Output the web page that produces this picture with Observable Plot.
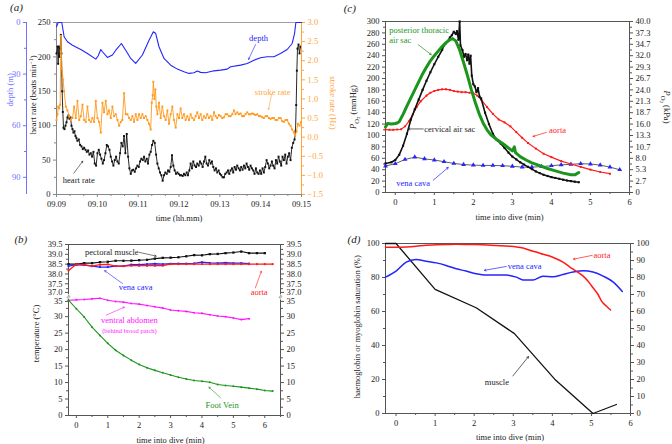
<!DOCTYPE html>
<html><head><meta charset="utf-8">
<script src="https://cdn.jsdelivr.net/npm/d3@7"></script>
<script src="https://cdn.jsdelivr.net/npm/@observablehq/plot@0.6"></script>
<style>
html,body{margin:0;padding:0;background:#fff;}
#root{position:relative;width:672px;height:444px;overflow:hidden;background:#fff;}
</style></head><body><div id="root"></div>
<script>
// ---------------- DATA ----------------
// (a) time in seconds after 09:09:00
const timeTicksA = [0, 60, 120, 180, 240, 300, 360];
const timeLabelsA = ["09.09", "09.10", "09.11", "09.12", "09.13", "09.14", "09.15"];
const hrTicks = [0, 50, 100, 150, 200, 250];
const depthTicks = [0, 30, 60, 90];
const strokeTicks = [-1.5, -1.0, -0.5, 0, 0.5, 1.0, 1.5, 2.0, 2.5, 3.0];

const heartRate = [
 [0,205],[1.5,215],[2.4,190],[3.4,215],[4.4,200],[5.4,212],[6.4,232],[7.3,205],[8.3,150],[9.3,120],
 [10.3,97],[11.7,95],[13.2,100],[14.7,105],[16.1,112],[17.6,115],[19.1,110],[20.5,112],[22.0,100],[23.5,95],
 [24.9,90],[26.4,92],[27.9,85],[29.3,82],[30.8,78],[32.8,80],[34.7,72],[36.7,70],[38.6,66],[40.6,68],
 [42.6,65],[44.5,62],[46.5,64],[48.4,58],[50.4,60],[52.3,55],[54.3,62],[56.2,45],[58.2,42],[60.2,60],
 [62.1,65],[64.1,58],[66.0,52],[68.0,45],[69.9,50],[71.9,60],[73.9,72],[75.8,70],[77.8,65],[79.7,55],
 [81.7,48],[83.6,42],[85.6,50],[87.6,55],[89.5,48],[91.5,45],[93.4,60],[95.4,75],[97.3,70],[99.3,85],
 [101.2,60],[103.2,88],[105.2,55],[107.1,38],[109.1,30],[111.0,35],[113.0,36],[114.9,33],[116.9,38],[118.9,42],
 [120.8,40],[122.8,48],[124.7,52],[126.7,50],[128.6,55],[130.6,48],[132.6,52],[134.5,45],[136.5,58],[138.4,62],
 [140.4,72],[142.3,78],[144.3,75],[146.3,58],[148.2,45],[150.2,38],[152.1,32],[154.1,28],[156.0,20],[158.0,28],
 [159.9,32],[161.9,30],[163.9,35],[165.8,33],[167.8,40],[169.7,57],[171.7,42],[173.6,35],[175.6,30],[177.6,32],
 [179.5,30],[181.5,28],[183.4,28],[185.4,27],[187.3,30],[189.3,28],[191.3,32],[193.2,28],[195.2,35],[197.1,45],
 [199.1,38],[201.0,48],[203.0,42],[205.0,40],[206.9,45],[208.9,42],[210.8,48],[212.8,45],[214.7,40],[216.7,48],
 [218.7,55],[220.6,45],[222.6,42],[224.5,50],[226.5,45],[228.4,48],[230.4,40],[232.3,35],[234.3,38],[236.3,32],
 [238.2,35],[240.2,30],[242.1,28],[244.1,25],[246.0,25],[248.0,30],[250.0,32],[251.9,35],[253.9,30],[255.8,35],
 [257.8,38],[259.7,32],[261.7,40],[263.7,36],[265.6,42],[267.6,38],[269.5,35],[271.5,40],[273.4,36],[275.4,42],
 [277.4,38],[279.3,45],[281.3,40],[283.2,36],[285.2,42],[287.1,38],[289.1,35],[291.0,30],[293.0,38],[295.0,32],
 [296.9,30],[298.9,35],[300.8,30],[302.8,38],[304.7,32],[306.7,40],[308.7,50],[310.6,45],[312.6,38],[314.5,42],
 [316.5,48],[318.4,42],[320.4,38],[322.4,50],[324.3,45],[326.3,55],[328.2,48],[330.2,42],[332.1,55],[334.1,50],
 [336.1,58],[338.0,45],[340.0,55],[341.9,60],[343.9,50],[345.8,68],[347.8,75],[349.8,80],[351.2,92],[352.2,130],
 [353.2,180],[354.1,212],[355.6,218],[357.1,205],[358.5,215]
];
const strokeRate = [
 [0,0.45],[1.5,0.6],[2.4,0.8],[3.9,0.75],[5.4,0.85],[6.4,2.65],[7.8,1.8],[9.8,1.5],[11.2,1.2],[13.7,0.8],
 [16.1,0.7],[18.6,0.55],[21.0,0.45],[23.5,0.5],[25.9,0.8],[28.4,0.5],[30.8,0.95],[33.3,0.45],[35.7,0.55],[38.2,0.85],
 [40.6,0.45],[43.0,0.4],[45.5,0.8],[47.9,0.45],[50.4,0.4],[52.8,0.5],[55.3,0.4],[57.7,0.95],[60.2,0.5],[62.6,0.4],
 [65.1,0.12],[67.5,0.9],[69.9,0.65],[72.4,0.95],[74.8,0.6],[77.3,0.7],[79.7,0.5],[82.2,0.8],[84.6,0.55],[87.1,0.6],
 [89.5,0.45],[92.0,0.3],[94.4,0.4],[96.8,0.45],[99.3,1.15],[101.7,0.6],[104.2,0.6],[106.6,0.5],[109.1,0.45],[111.5,0.55],
 [114.0,0.4],[116.4,0.6],[118.9,0.45],[121.3,0.6],[123.7,0.5],[126.2,0.6],[128.6,0.5],[131.1,0.55],[133.5,0.45],[136.0,0.35],
 [138.4,0.2],[139.9,0.9],[141.4,1.1],[142.3,1.45],[143.8,1.0],[145.3,1.25],[146.7,0.8],[148.2,0.6],[150.6,0.9],[153.1,0.5],
 [155.5,0.8],[158.0,0.55],[160.4,0.45],[162.9,0.7],[165.3,0.35],[167.8,0.6],[170.2,0.8],[172.7,0.45],[175.1,0.25],[177.6,0.6],
 [180.0,0.5],[182.4,0.75],[184.9,0.5],[187.3,0.6],[189.8,0.45],[192.2,0.55],[194.7,0.45],[197.1,0.6],[199.6,0.5],[202.0,0.45],
 [204.5,0.55],[206.9,0.65],[209.3,0.5],[211.8,0.6],[214.2,0.45],[216.7,0.55],[219.1,0.5],[221.6,0.6],[224.0,0.5],[226.5,0.55],
 [228.9,0.45],[231.4,0.65],[233.8,0.55],[236.2,0.5],[238.7,0.58],[241.1,0.55],[243.6,0.5],[246.0,0.52],[248.5,0.6],[250.9,0.6],
 [253.4,0.55],[255.8,0.55],[258.3,0.6],[260.7,0.7],[263.1,0.6],[265.6,0.65],[268.0,0.6],[270.5,0.62],[272.9,0.55],[275.4,0.55],
 [277.8,0.6],[280.3,0.65],[282.7,0.6],[285.2,0.6],[287.6,0.62],[290.1,0.6],[292.5,0.58],[295.0,0.6],[297.4,0.55],[299.8,0.55],
 [302.3,0.52],[304.7,0.5],[307.2,0.55],[309.6,0.55],[312.1,0.5],[314.5,0.48],[317.0,0.5],[319.4,0.5],[321.9,0.45],[324.3,0.45],
 [326.8,0.5],[329.2,0.5],[331.6,0.42],[334.1,0.4],[336.5,0.45],[339.0,0.45],[341.4,0.35],[343.9,0.3],[346.3,0.2],[348.8,0.12],
 [350.7,0.05],[352.7,0.15],[354.6,0.35],[357.1,0.3],[359.5,0.4]
];
const depth = [
 [0,2.5],[2.4,0],[7.8,0],[11.2,8.3],[16.1,11.2],[23.5,13.2],[35.7,15.7],[45.5,18.0],[57.7,21.3],[61.1,19.5],
 [65.1,15.7],[67.5,17.0],[74.8,20.3],[82.2,18.9],[87.1,16.1],[95.4,12.2],[101.7,16.1],[109.1,20.9],[116.4,23.8],[126.2,18.9],
 [136.0,10.3],[142.3,5.4],[145.8,6.4],[150.6,14.1],[158.0,20.9],[167.8,24.8],[177.6,27.1],[187.3,28.6],[194.7,29.6],[202.0,29.2],
 [206.9,28.2],[211.8,29.0],[219.1,29.2],[231.4,28.1],[241.1,27.7],[250.9,27.1],[255.8,25.7],[270.5,24.8],[280.3,23.8],[290.1,21.9],
 [299.8,20.5],[309.6,19.9],[319.4,19.9],[329.2,18.0],[339.0,15.7],[346.3,12.2],[349.8,6.4],[351.7,0],[360,0]
];

// (b) temperatures, time into dive (min)
const tempTicksLow = [0, 5, 10, 15, 20, 25, 30];
const tempTickBreakLow = [35];
const tempTicksHigh = [37.5, 38.0, 38.5, 39.0, 39.5];
const tempLabelsHigh = ["37.5", "38.0", "38.5", "39.0", "39.5"];
const tempTickBreakHigh = [37.0];
const minuteTicksB = [0, 1, 2, 3, 4, 5, 6];
const pectoral = [[-0.25,38.50],[0,38.50],[0.25,38.55],[0.5,38.55],[0.75,38.60],[1,38.62],[1.25,38.67],[1.5,38.67],[1.75,38.68],[2,38.70],[2.25,38.72],[2.5,38.78],[2.75,38.82],[3,38.83],[3.25,38.85],[3.5,38.90],[3.75,38.96],[4,38.95],[4.25,39.01],[4.5,39.02],[4.75,39.06],[5,39.09],[5.25,39.14],[5.5,39.06],[5.75,39.06],[6,39.06]];
const venaCavaB = [[-0.25,38.40],[0,38.47],[0.25,38.45],[0.5,38.40],[0.75,38.35],[1,38.35],[1.25,38.40],[1.5,38.40],[1.75,38.48],[2,38.48],[2.25,38.50],[2.5,38.52],[2.75,38.50],[3,38.52],[3.25,38.53],[3.5,38.53],[3.75,38.54],[4,38.60],[4.25,38.56],[4.5,38.55],[4.75,38.57],[5,38.55],[5.25,38.55],[5.5,38.53]];
const aortaB = [[-0.25,38.18],[0,38.50],[0.25,38.47],[0.5,38.40],[0.75,38.47],[1,38.49],[1.25,38.40],[1.5,38.40],[1.75,38.42],[2,38.42],[2.25,38.42],[2.5,38.42],[2.75,38.42],[3,38.50],[3.25,38.50],[3.5,38.50],[3.75,38.50],[4,38.50],[4.25,38.50],[4.5,38.50],[4.75,38.50],[5,38.50],[5.25,38.50],[5.5,38.50],[5.75,38.50],[6,38.50],[6.25,38.50]];
const ventralAbdomen = [[-0.25,35.0],[0,35.1],[0.25,35.2],[0.5,35.4],[0.75,35.6],[1,35.0],[1.25,34.6],[1.5,34.4],[1.75,34.0],[2,33.8],[2.25,33.4],[2.5,33.0],[2.75,32.6],[3,32.0],[3.25,31.8],[3.5,31.6],[3.75,31.2],[4,31.0],[4.25,30.6],[4.5,30.2],[4.75,30.0],[5,29.6],[5.25,29.1],[5.5,29.4]];
const footVein = [[-0.25,35.0],[0,32.4],[0.25,29.9],[0.5,26.8],[0.75,24.3],[1,21.9],[1.25,19.8],[1.5,18.2],[1.75,16.8],[2,15.5],[2.25,14.5],[2.5,13.7],[2.75,13.0],[3,12.3],[3.25,11.6],[3.5,11.1],[3.75,10.6],[4,10.4],[4.25,10.1],[4.5,9.4],[4.75,9.1],[5,8.9],[5.25,8.6],[5.5,8.3],[5.75,8.0],[6,7.6],[6.25,7.4]];

// (c) PO2 (mmHg)
const po2Ticks = [0,20,40,60,80,100,120,140,160,180,200,220,240,260,280,300];
const kPaLabels = ["0","2.7","5.3","8.0","10.7","13.3","16.0","18.7","21.3","24.0","26.7","29.3","32.0","34.7","37.3","40.0"];
const minuteTicksC = [0, 1, 2, 3, 4, 5, 6];
const cervical = [[-0.25,51],[-0.1,53],[0,57],[0.1,66],[0.2,82],[0.3,103],[0.4,128],[0.5,146],[0.6,163],[0.7,180],[0.8,196],[0.9,211],[1.0,225],[1.1,238],[1.2,250],[1.25,258],[1.3,262],[1.35,266],[1.4,272],[1.45,276],[1.5,282],[1.55,278],[1.58,283],[1.62,268],[1.65,300],[1.67,258],[1.72,250],[1.76,238],[1.8,243],[1.84,232],[1.87,242],[1.9,226],[1.93,240],[1.96,205],[2.0,190],[2.04,186],[2.08,176],[2.12,183],[2.16,168],[2.2,165],[2.3,140],[2.4,120],[2.5,103],[2.6,92],[2.7,86],[2.8,78],[2.9,70],[3.0,63],[3.1,58],[3.2,53],[3.3,49],[3.4,45],[3.5,41],[3.6,37],[3.7,34],[3.8,31],[3.9,29],[4.0,27],[4.1,25.5],[4.2,24],[4.3,22.5],[4.4,21],[4.5,20],[4.6,19],[4.7,18]];
const thoracic = [[-0.25,115],[-0.2,121],[-0.1,120],[0,121],[0.05,122],[0.1,124],[0.2,137],[0.3,152],[0.4,166],[0.5,180],[0.6,194],[0.7,208],[0.8,220],[0.9,231],[1.0,240],[1.1,248],[1.2,256],[1.3,263],[1.4,268],[1.47,270],[1.55,266],[1.65,250],[1.75,228],[1.85,205],[1.95,180],[2.05,158],[2.15,138],[2.25,122],[2.35,110],[2.45,101],[2.6,93],[2.75,86],[2.9,78],[3.0,73],[3.05,80],[3.08,70],[3.2,63],[3.35,57],[3.5,52],[3.7,47],[3.9,42],[4.1,38],[4.3,34],[4.5,31],[4.6,31],[4.7,35]];
const aortaC = [[-0.25,110.5],[-0.15,110],[-0.05,110],[0.05,110.5],[0.15,111],[0.25,116],[0.35,125],[0.45,137],[0.55,150],[0.65,160],[0.8,170],[0.9,175],[1.0,178],[1.1,180],[1.2,181],[1.3,181],[1.4,180],[1.5,178],[1.6,177],[1.7,176],[1.8,176],[1.9,175],[2.0,174],[2.1,170],[2.2,163],[2.35,150],[2.5,138],[2.65,128],[2.8,123],[2.95,116],[3.1,106],[3.25,96],[3.4,87],[3.6,77],[3.8,68],[4.0,62],[4.25,55],[4.5,50],[4.75,45],[5.0,40],[5.25,36],[5.5,33]];
const venaCavaC = [[-0.25,46.5],[0,50.5],[0.25,58],[0.5,62],[0.75,59],[1.0,57],[1.25,54],[1.5,51],[1.75,49],[2.0,48],[2.25,47.5],[2.5,47.5],[2.75,47],[3.0,46],[3.25,44.5],[3.5,44.5],[3.75,45.5],[4.0,47],[4.25,48.5],[4.5,49.5],[4.75,50.5],[5.0,50],[5.25,48],[5.5,44.5],[5.75,40]];

// (d) saturation (%)
const satTicksLeft = [0, 20, 40, 60, 80, 100];
const satTicksRight = [0, 10, 20, 30, 40, 50, 60, 70, 80, 90, 100];
const minuteTicksD = [0, 1, 2, 3, 4, 5, 6];
const aortaD = [[-0.27,97.8],[0,97.8],[0.26,98],[0.51,98.4],[0.77,99],[1.03,99.2],[1.28,99.4],[1.54,99.6],[1.88,99.4],[2.22,99.2],[2.56,98.8],[2.9,98.4],[3.08,98],[3.25,97.3],[3.42,96],[3.59,95],[3.76,93.7],[3.93,92.6],[4.1,91],[4.27,89],[4.44,86.3],[4.62,83.6],[4.79,80.8],[4.91,77.9],[5.04,74],[5.17,70],[5.26,66.1],[5.38,63.2],[5.49,60.9]];
const venaCavaD = [[-0.27,80.2],[0,83.8],[0.26,89],[0.51,90.6],[0.77,89.6],[1.03,88.6],[1.28,87.1],[1.54,85.1],[1.79,83.8],[2.05,82.2],[2.31,81.4],[2.56,81.4],[2.82,81.4],[3.08,80.2],[3.25,78.5],[3.5,78.5],[3.76,80.8],[4.02,80.4],[4.27,81.8],[4.53,83.2],[4.79,84],[5.04,83.2],[5.3,80.8],[5.56,77.3],[5.79,71.8]];
const muscleD = [[-0.27,100],[0,100],[1.0,73],[2.05,62.2],[3.03,47],[4.06,20.2],[5.04,0],[5.64,5.3]];

// ---------------- RENDER ----------------
const root = document.getElementById("root");
const FONT = "'Liberation Serif', 'Times New Roman', serif";
const style = {fontFamily: FONT, fontSize: "8.5px", background: "transparent", overflow: "visible", color: "#222"};
const X = d => d[0], Y = d => d[1];
const blank = () => "";
const INK = "#222", AX = "#555";
const BLUE = "#2424ff", RED = "#ff1a1a", GREEN = "#1b951b", MAG = "#ff14ff", ORANGE = "#ff9a1f";
const DEPTHAX = "#7272ff", ORANGEAX = "#ffa53a";
const C = {textAnchor: "middle", lineAnchor: "middle"};

function mount(svg, left, top) {
  svg.style.position = "absolute";
  svg.style.left = left + "px";
  svg.style.top = top + "px";
  root.appendChild(svg);
  return svg;
}
function rich(svg, plain, html) {
  svg.querySelectorAll("text").forEach(t => { if (t.textContent === plain) t.innerHTML = html; });
}
const range = (a, b, s) => d3.range(a, b + s / 2, s);
const letter = (s, dx, dy) => Plot.text([s], {frameAnchor: "top-left", dx, dy, ...C, fontSize: 11, fontStyle: "italic", fill: INK});

// ---- Panel (a) ----
const A = {width: 336, height: 222, marginLeft: 56, marginRight: 35, marginTop: 22, marginBottom: 28};
const secPerPx = 360 / (A.width - A.marginLeft - A.marginRight);
const depthAxisX = 26;
const xLeftDepth = -(A.marginLeft - depthAxisX) * secPerPx;

const plotA = Plot.plot({
  ...A, style,
  x: {domain: [0, 360], axis: null},
  y: {domain: [0, 250], axis: null},
  marks: [
    Plot.ruleY([250], {stroke: "#a0a0a0"}),
    Plot.ruleY([0], {stroke: "#888"}),
    Plot.ruleX([0], {stroke: "#888"}),
    Plot.axisX(timeTicksA, {tickSize: 3, tickPadding: 3, stroke: "#888", fill: INK, label: null,
      tickFormat: d => timeLabelsA[timeTicksA.indexOf(d)]}),
    Plot.axisX([20,40,80,100,140,160,200,220,260,280,320,340], {tickSize: 2, stroke: "#888", tickFormat: blank, label: null}),
    Plot.axisY(hrTicks, {tickSize: 3, tickPadding: 3, stroke: "#888", fill: INK, label: null}),
    Plot.axisY([25,75,125,175,225], {tickSize: 2, stroke: "#888", tickFormat: blank, label: null}),
    Plot.line(heartRate, {x: X, y: Y, stroke: "#111", strokeWidth: 0.9}),
    Plot.dot(heartRate, {x: X, y: Y, symbol: "square", r: 1.1, fill: "#111"}),
    Plot.text(["heart rate"], {x: 32.7, y: 21, fill: INK}),
    Plot.arrow([0], {x1: 25.4, y1: 31, x2: 38.6, y2: 48.4, stroke: INK, strokeWidth: 0.6, headLength: 4}),
    Plot.text(["heart rate (beats min-1)"], {x: 0, y: 145, dx: -23, rotate: -90, ...C, fill: INK}),
    Plot.text(["depth (m)"], {x: 0, y: 152, dx: -46, rotate: -90, ...C, fill: DEPTHAX}),
    Plot.text(["stroke rate (Hz)"], {x: 360, y: 133, dx: 31, rotate: 90, ...C, fill: ORANGEAX}),
    Plot.text(["time (hh.mm)"], {frameAnchor: "bottom", dy: 24, ...C, fill: INK}),
    letter("(a)", -40, -15)
  ]
});
rich(plotA, "heart rate (beats min-1)", 'heart rate (beats min<tspan dy="-3" font-size="6">−1</tspan><tspan dy="3">)</tspan>');
mount(plotA, 0, 0);

const plotAStroke = Plot.plot({
  ...A, style,
  x: {domain: [0, 360], axis: null},
  y: {domain: [-1.5, 3], axis: null},
  marks: [
    Plot.ruleX([360], {stroke: ORANGEAX}),
    Plot.axisY(strokeTicks, {anchor: "right", tickSize: 3, tickPadding: 3, stroke: ORANGEAX, fill: ORANGEAX, label: null, tickFormat: d3.format(".1f")}),
    Plot.axisY([-1.25,-0.75,-0.25,0.25,0.75,1.25,1.75,2.25,2.75], {anchor: "right", tickSize: 2, stroke: ORANGEAX, tickFormat: blank, label: null}),
    Plot.line(strokeRate, {x: X, y: Y, stroke: ORANGE, strokeWidth: 0.9}),
    Plot.dot(strokeRate, {x: X, y: Y, symbol: "square", r: 1.1, fill: ORANGE}),
    Plot.text(["stroke rate"], {x: 317.6, y: 1.17, fill: ORANGEAX}),
    Plot.arrow([0], {x1: 316, y1: 1.12, x2: 311.5, y2: 0.72, stroke: ORANGEAX, strokeWidth: 0.6, headLength: 4})
  ]
});
mount(plotAStroke, 0, 0);

const plotADepth = Plot.plot({
  ...A, marginLeft: depthAxisX, style,
  x: {domain: [xLeftDepth, 360], axis: null},
  y: {domain: [0, 100], reverse: true, axis: null},
  marks: [
    Plot.ruleX([xLeftDepth], {stroke: DEPTHAX}),
    Plot.axisY(depthTicks, {anchor: "left", tickSize: 3, tickPadding: 3, stroke: DEPTHAX, fill: DEPTHAX, label: null}),
    Plot.axisY([15, 45, 75], {anchor: "left", tickSize: 2, stroke: DEPTHAX, tickFormat: blank, label: null}),
    Plot.line(depth, {x: X, y: Y, stroke: BLUE, strokeWidth: 1.1}),
    Plot.text(["depth"], {x: 296.9, y: 9.1, fill: BLUE}),
    Plot.arrow([0], {x1: 292.5, y1: 12.8, x2: 282.2, y2: 21.5, stroke: BLUE, strokeWidth: 0.6, headLength: 4})
  ]
});
mount(plotADepth, 0, 0);

// ---- Panel (b) ----
const stretch = 5.96;
const u = v => v <= 36 ? v : 37 + (v - 37) * stretch;
const highPos = tempTicksHigh.map(u);
const fmtHigh = p => tempLabelsHigh[highPos.indexOf(p)];
const lowMinor = [2.5,7.5,12.5,17.5,22.5,27.5,32.5];
const highMinor = [37.25,37.75,38.25,38.75,39.25].map(u);
const YT = d => u(d[1]);
const tk = {tickSize: 3, tickPadding: 3, stroke: AX, fill: INK, label: null};
const plotB = Plot.plot({
  width: 336, height: 222, marginLeft: 68, marginRight: 56, marginTop: 22, marginBottom: 29, style,
  x: {domain: [-0.25, 6.5], axis: null},
  y: {domain: [0, u(39.5)], axis: null},
  marks: [
    Plot.frame({stroke: AX}),
    Plot.axisX(minuteTicksB, tk),
    Plot.axisX(range(0.5, 6.5, 1), {tickSize: 2, stroke: AX, tickFormat: blank, label: null}),
    ...["left", "right"].flatMap(anchor => [
      Plot.axisY(tempTicksLow, {anchor, ...tk}),
      Plot.axisY(tempTickBreakLow, {anchor, ...tk, dy: 1.2}),
      Plot.axisY(highPos, {anchor, ...tk, tickFormat: fmtHigh}),
      Plot.axisY(tempTickBreakHigh.map(u), {anchor, ...tk, dy: -1.2, tickFormat: d3.format(".1f")}),
      Plot.axisY(lowMinor, {anchor, tickSize: 2, stroke: AX, tickFormat: blank, label: null}),
      Plot.axisY(highMinor, {anchor, tickSize: 2, stroke: AX, tickFormat: blank, label: null}),
      Plot.text(["≈"], {frameAnchor: anchor, y: 36, ...C, rotate: -60, fontSize: 7, fill: INK, stroke: "white", strokeWidth: 1.2, paintOrder: "stroke"})
    ]),
    Plot.line(pectoral, {x: X, y: YT, stroke: "#111", strokeWidth: 1.1}),
    Plot.dot(pectoral, {x: X, y: YT, symbol: "square", r: 1.3, fill: "#111"}),
    Plot.line(venaCavaB, {x: X, y: YT, stroke: BLUE, strokeWidth: 1.3}),
    Plot.dot(venaCavaB, {x: X, y: YT, symbol: "square", r: 1.1, fill: BLUE}),
    Plot.line(aortaB, {x: X, y: YT, stroke: RED, strokeWidth: 1.3}),
    Plot.dot(aortaB, {x: X, y: YT, symbol: "square", r: 1.1, fill: RED}),
    Plot.line(ventralAbdomen, {x: X, y: YT, stroke: MAG, strokeWidth: 1.1}),
    Plot.dot(ventralAbdomen, {x: X, y: YT, r: 1, fill: MAG}),
    Plot.line(footVein, {x: X, y: YT, stroke: GREEN, strokeWidth: 1.1}),
    Plot.dot(footVein, {x: X, y: YT, r: 1, fill: GREEN}),
    Plot.text(["pectoral muscle"], {x: 1.13, y: u(39.11), fill: INK}),
    Plot.arrow([0], {x1: 2.0, y1: u(39.10), x2: 2.54, y2: u(38.91), stroke: INK, strokeWidth: 0.6, headLength: 4}),
    Plot.text(["vena cava"], {x: 1.89, y: u(37.33), fill: BLUE}),
    Plot.arrow([0], {x1: 1.47, y1: u(37.51), x2: 0.9, y2: u(38.17), stroke: BLUE, strokeWidth: 0.6, headLength: 4}),
    Plot.text(["aorta"], {x: 5.82, y: u(37.09), fill: RED}),
    Plot.arrow([0], {x1: 5.70, y1: u(37.29), x2: 5.89, y2: u(38.14), stroke: RED, strokeWidth: 0.6, headLength: 4}),
    Plot.text(["ventral abdomen"], {x: 1.69, y: 28.8, fill: MAG}),
    Plot.text(["(behind brood patch)"], {x: 1.69, y: 25.8, fill: MAG, fontSize: 6.5}),
    Plot.arrow([0], {x1: 0.96, y1: 30.5, x2: 1.53, y2: 32.9, stroke: MAG, strokeWidth: 0.6, headLength: 4}),
    Plot.text(["Foot Vein"], {x: 4.64, y: 3.0, fill: GREEN}),
    Plot.arrow([0], {x1: 4.59, y1: 5.4, x2: 4.22, y2: 8.6, stroke: GREEN, strokeWidth: 0.6, headLength: 4}),
    Plot.text(["temperature (°C)"], {x: -0.25, y: 24.9, dx: -32, rotate: -90, ...C, fill: INK}),
    Plot.text(["time into dive (min)"], {frameAnchor: "bottom", dx: -4, dy: 24.5, ...C, fill: INK}),
    letter("(b)", -47.7, -5)
  ]
});
mount(plotB, 0, 222);

// ---- Panel (c) ----
const plotC = Plot.plot({
  width: 336, height: 222, marginLeft: 49, marginRight: 43, marginTop: 21, marginBottom: 30, style,
  x: {domain: [-0.25, 6], axis: null},
  y: {domain: [0, 300], axis: null},
  marks: [
    Plot.frame({stroke: AX}),
    Plot.axisX(minuteTicksC, {tickSize: 3, tickPadding: 3, stroke: AX, fill: INK, label: null}),
    Plot.axisX(range(0.5, 5.5, 1), {tickSize: 2, stroke: AX, tickFormat: blank, label: null}),
    Plot.axisY(po2Ticks, {anchor: "left", tickSize: 3, tickPadding: 3, stroke: AX, fill: INK, label: null}),
    Plot.axisY(po2Ticks, {anchor: "right", tickSize: 3, tickPadding: 3, stroke: AX, fill: INK, label: null,
      tickFormat: d => kPaLabels[po2Ticks.indexOf(d)]}),
    Plot.axisY(range(10, 290, 20), {anchor: "left", tickSize: 2, stroke: AX, tickFormat: blank, label: null}),
    Plot.axisY(range(10, 290, 20), {anchor: "right", tickSize: 2, stroke: AX, tickFormat: blank, label: null}),
    Plot.line(venaCavaC, {x: X, y: Y, stroke: "#333", strokeWidth: 0.8}),
    Plot.dot(venaCavaC, {x: X, y: Y, symbol: "triangle", r: 1.8, fill: BLUE}),
    Plot.line(aortaC, {x: X, y: Y, stroke: RED, strokeWidth: 1.2}),
    Plot.dot(aortaC, {x: X, y: Y, symbol: "square", r: 1.1, fill: RED}),
    Plot.line(cervical, {x: X, y: Y, stroke: "#111", strokeWidth: 1.6}),
    Plot.dot(cervical, {x: X, y: Y, symbol: "square", r: 1.2, fill: "#111"}),
    Plot.line(thoracic, {x: X, y: Y, stroke: GREEN, strokeWidth: 3}),
    Plot.text(["posterior thoracic\nair sac"], {x: -0.154, y: 276.7, textAnchor: "start", lineHeight: 1.2, fill: GREEN}),
    Plot.arrow([0], {x1: 0.589, y1: 259.3, x2: 0.922, y2: 241.8, stroke: GREEN, strokeWidth: 0.7, headLength: 4}),
    Plot.text(["cervical air sac"], {x: 0.743, y: 111.5, textAnchor: "start", fill: INK}),
    Plot.arrow([0], {x1: 0.717, y1: 111.5, x2: 0.333, y2: 111.5, stroke: INK, strokeWidth: 0.7, headLength: 4}),
    Plot.text(["aorta"], {x: 3.94, y: 109, textAnchor: "start", fill: RED}),
    Plot.arrow([0], {x1: 3.87, y1: 105.4, x2: 3.53, y2: 98.4, stroke: RED, strokeWidth: 0.7, headLength: 4}),
    Plot.text(["vena cava"], {x: 0.46, y: 16.8, fill: BLUE}),
    Plot.arrow([0], {x1: 0.973, y1: 21.5, x2: 1.357, y2: 44, stroke: BLUE, strokeWidth: 0.7, headLength: 4}),
    Plot.text(["PO2 (mmHg)"], {x: -0.25, y: 150, dx: -32, rotate: -90, ...C, fill: INK}),
    Plot.text(["PO2 (kPa)"], {x: 6, y: 150, dx: 37, rotate: 90, ...C, fill: INK}),
    Plot.text(["time into dive (min)"], {frameAnchor: "bottom", dx: 2, dy: 25, ...C, fill: INK}),
    letter("(c)", -35.7, -13.2)
  ]
});
const po2Html = u2 => '<tspan font-style="italic">P</tspan><tspan dy="2.5" font-size="6.5">O</tspan><tspan dy="1.5" font-size="5">2</tspan><tspan dy="-4"> (' + u2 + ')</tspan>';
rich(plotC, "PO2 (mmHg)", po2Html("mmHg"));
rich(plotC, "PO2 (kPa)", po2Html("kPa"));
mount(plotC, 336, 0);

// ---- Panel (d) ----
const plotD = Plot.plot({
  width: 336, height: 222, marginLeft: 49, marginRight: 42, marginTop: 21, marginBottom: 31, style,
  x: {domain: [-0.27, 6], axis: null},
  y: {domain: [0, 100], axis: null},
  marks: [
    Plot.frame({stroke: AX}),
    Plot.axisX(minuteTicksD, {tickSize: 3, tickPadding: 3, stroke: AX, fill: INK, label: null}),
    Plot.axisX(range(0.5, 5.5, 1), {tickSize: 2, stroke: AX, tickFormat: blank, label: null}),
    Plot.axisY(satTicksLeft, {anchor: "left", tickSize: 3, tickPadding: 3, stroke: AX, fill: INK, label: null}),
    Plot.axisY([10, 30, 50, 70, 90], {anchor: "left", tickSize: 2, stroke: AX, tickFormat: blank, label: null}),
    Plot.axisY(satTicksRight, {anchor: "right", tickSize: 3, tickPadding: 3, stroke: AX, fill: INK, label: null}),
    Plot.axisY(range(5, 95, 10), {anchor: "right", tickSize: 2, stroke: AX, tickFormat: blank, label: null}),
    Plot.line(muscleD, {x: X, y: Y, stroke: "#111", strokeWidth: 1.3}),
    Plot.line(venaCavaD, {x: X, y: Y, stroke: BLUE, strokeWidth: 1.5, curve: "monotone-x"}),
    Plot.line(aortaD, {x: X, y: Y, stroke: RED, strokeWidth: 1.5, curve: "monotone-x"}),
    Plot.text(["aorta"], {x: 5.27, y: 93.2, fill: RED}),
    Plot.arrow([0], {x1: 5.02, y1: 93, x2: 4.54, y2: 90.8, stroke: RED, strokeWidth: 0.7, headLength: 4}),
    Plot.text(["vena cava"], {x: 3.29, y: 86.7, fill: BLUE}),
    Plot.arrow([0], {x1: 2.82, y1: 86.5, x2: 2.26, y2: 84.2, stroke: BLUE, strokeWidth: 0.7, headLength: 4}),
    Plot.text(["muscle"], {x: 2.58, y: 18.6, fill: INK}),
    Plot.arrow([0], {x1: 2.99, y1: 22.1, x2: 3.39, y2: 33.5, stroke: INK, strokeWidth: 0.7, headLength: 4}),
    Plot.text(["haemoglobin or myoglobin saturation (%)"], {x: -0.27, y: 51, dx: -28, rotate: -90, ...C, fill: INK}),
    Plot.text(["time into dive (min)"], {frameAnchor: "bottom", dx: 2, dy: 24, ...C, fill: INK}),
    letter("(d)", -31.5, -4)
  ]
});
mount(plotD, 336, 222);
</script></body></html>
